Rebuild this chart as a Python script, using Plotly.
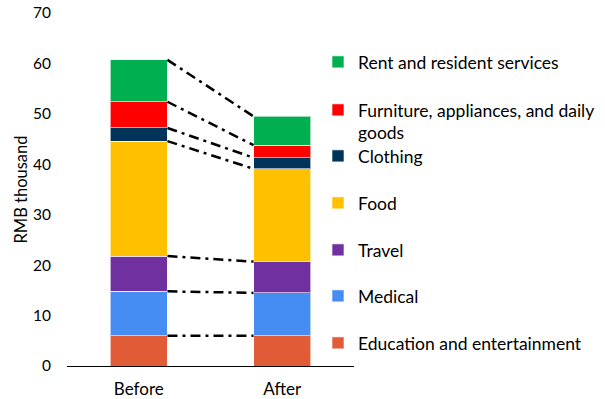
import plotly.graph_objects as go
import numpy as np

periods = ["Before", "After"]
categories = ["Education and entertainment", "Medical", "Travel", "Food", "Clothing",
              "Furniture, appliances, and daily<br>goods", "Rent and resident services"]
before_vals = [6.0, 8.8, 7.0, 22.8, 2.6, 5.2, 8.3]
after_vals = [6.0, 8.5, 6.2, 18.4, 2.2, 2.5, 5.7]
colors = ["#E15B36", "#468DF3", "#7030A0", "#FFC000", "#00335A", "#FF0000", "#00B050"]
y_ticks = [0, 10, 20, 30, 40, 50, 60, 70]

FONT = "Lato"
BAR_W = 0.4
W, H = 605, 399
ML, MR, MT, MB = 67, 251, 13, 33
PW, PH = W - ML - MR, H - MT - MB

# legend item centers (pixels from top of the page) in the reference
legend_px = [344, 297, 251, 204, 157, 111, 63]

fig = go.Figure()
x_pos = [0, 1]
for i, cat in enumerate(categories):
    lname = "legend" if i == 0 else f"legend{i+1}"
    fig.add_trace(go.Bar(
        x=x_pos, y=[before_vals[i], after_vals[i]], name=cat,
        marker=dict(color=colors[i], line=dict(color="rgba(255,255,255,0.6)", width=1)),
        width=BAR_W, legend=lname, showlegend=True,
    ))

cum_b = np.cumsum(before_vals)
cum_a = np.cumsum(after_vals)
for i in range(len(categories)):
    fig.add_trace(go.Scatter(
        x=[0 + BAR_W / 2, 1 - BAR_W / 2], y=[cum_b[i], cum_a[i]], mode="lines",
        line=dict(color="black", width=2.5, dash="10px,5px,3px,5px"),
        showlegend=False, hoverinfo="skip",
    ))

layout_legends = {}
for i in range(len(categories)):
    lname = "legend" if i == 0 else f"legend{i+1}"
    ypx = legend_px[i] - 19
    layout_legends[lname] = dict(
        x=(318 - ML) / PW, xanchor="left",
        y=(H - MB - ypx) / PH, yanchor="top",
        valign="top", bgcolor="rgba(0,0,0,0)",
        font=dict(family=FONT, size=17.5, color="black"),
    )

fig.update_layout(
    barmode="stack",
    width=W, height=H,
    margin=dict(l=ML, r=MR, t=MT, b=MB, autoexpand=False),
    plot_bgcolor="white", paper_bgcolor="white",
    font=dict(family=FONT, size=16, color="black"),
    xaxis=dict(range=[-0.5, 1.5], tickvals=x_pos, ticktext=periods, showgrid=False,
               showline=True, linecolor="black", linewidth=1, zeroline=False,
               ticks="", ticklabelstandoff=8, tickfont=dict(size=17), fixedrange=True),
    yaxis=dict(range=[0, 70], tickvals=y_ticks, showgrid=False, zeroline=False,
               showline=False, ticks="", ticklabelstandoff=15, tickfont=dict(size=15.5),
               ticklabeloverflow="allow",
               title=dict(text="RMB thousand", standoff=1, font=dict(size=16.5)),
               fixedrange=True),
    **layout_legends,
)

fig.write_html("out.html", config={"displayModeBar": False},
               post_script="document.body.style.margin='0';document.body.style.padding='0';")
